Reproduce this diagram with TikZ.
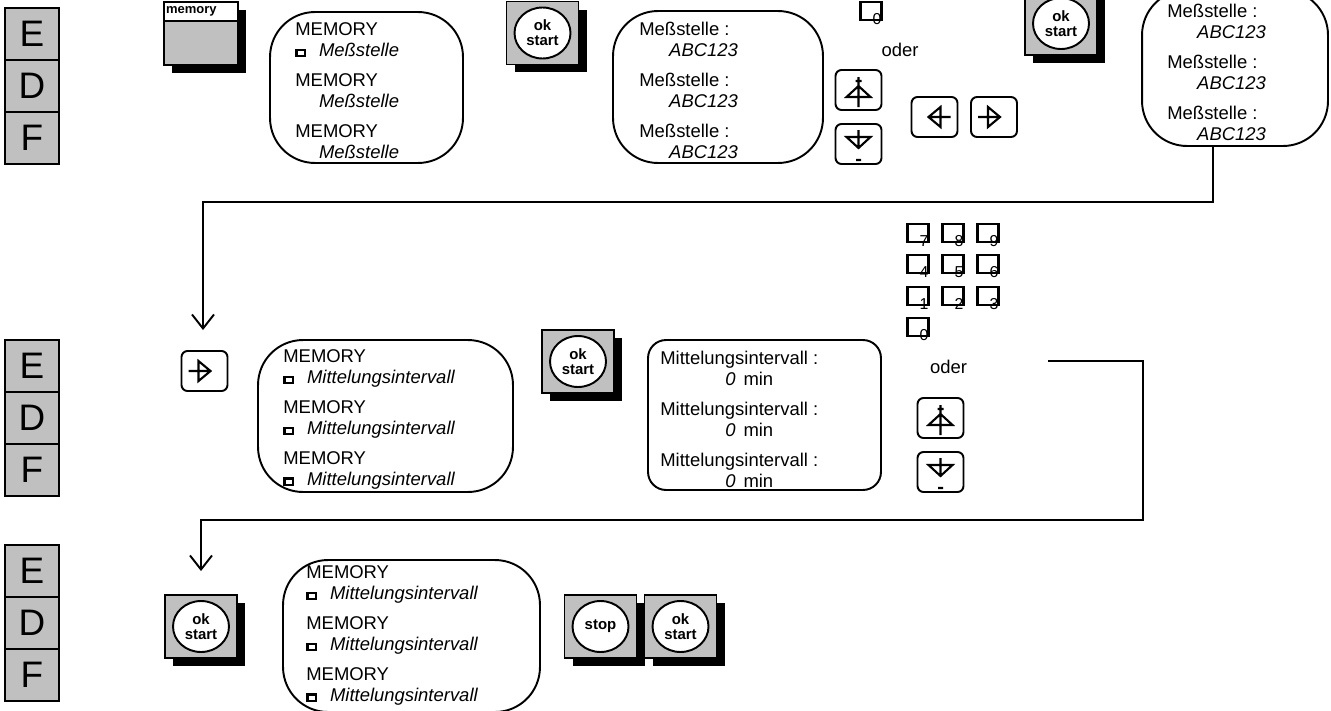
\documentclass[tikz,border=0pt]{standalone}
\usepackage{fontspec}
\setmainfont{Liberation Sans}
\usetikzlibrary{shapes.geometric, arrows.meta, positioning, shadows}
\definecolor{keygray}{RGB}{192,192,192}
\newcommand{\memsq}{\makebox[13.5pt][l]{\raisebox{1.2pt}{{\fboxsep=0pt\fboxrule=1.3pt\fbox{\rule{0pt}{2.2pt}\hspace{3.4pt}}}}}}
\newcommand{\nosq}{\makebox[13.5pt]{}}

\begin{document}
\begin{tikzpicture}[x=0.02cm, y=-0.02cm]
    % --- STYLES ---
    \tikzstyle{langbox} = [rectangle, draw=black, line width=1.1pt, fill=keygray, minimum width=1.08cm, minimum height=1.04cm, inner sep=0pt, font=\fontsize{21}{21}\selectfont]
    \tikzstyle{keycap} = [rectangle, draw=black, line width=1.1pt, fill=keygray, minimum width=1.44cm, minimum height=1.26cm, general shadow={fill=black, shadow xshift=0.16cm, shadow yshift=-0.16cm}]
    \tikzstyle{keyface} = [ellipse, draw=black, line width=1.1pt, fill=white, minimum width=1.12cm, minimum height=1.02cm, inner sep=0pt, align=center, font=\bfseries\fontsize{8.5}{8.5}\selectfont]
    \tikzstyle{lcd} = [rectangle, rounded corners=0.9cm, draw=black, line width=1.1pt]
    \tikzstyle{lcdtext} = [anchor=north west, inner sep=0pt, align=left, font=\fontsize{10.5}{12}\selectfont]
    \tikzstyle{arrowkey} = [rectangle, rounded corners=0.12cm, draw=black, line width=1.1pt, minimum width=0.92cm, minimum height=0.8cm]
    \tikzstyle{numkey} = [rectangle, draw=black, line width=1.3pt, minimum width=0.42cm, minimum height=0.36cm]
    \tikzstyle{digitlabel} = [anchor=south east, inner sep=0pt, xshift=-0.02cm, yshift=-0.07cm, font=\fontsize{9}{9}\selectfont]
    \tikzstyle{keyglyph} = [line width=1.2pt]
    \tikzstyle{flow} = [-{Straight Barb[length=0.28cm, width=0.44cm]}, line width=1.1pt]

    \useasboundingbox (0,0) rectangle (1331,710);
    \clip (0,0) rectangle (1331,710);

    % --- LANGUAGE COLUMNS ---
    \node (langE1) [langbox] at (32,34) {E};
    \node (langD1) [langbox, below=-1.1pt of langE1] {D};
    \node (langF1) [langbox, below=-1.1pt of langD1] {F};
    \node (langE2) [langbox] at (32,366) {E};
    \node (langD2) [langbox, below=-1.1pt of langE2] {D};
    \node (langF2) [langbox, below=-1.1pt of langD2] {F};
    \node (langE3) [langbox] at (32,571) {E};
    \node (langD3) [langbox, below=-1.1pt of langE3] {D};
    \node (langF3) [langbox, below=-1.1pt of langD3] {F};

    % --- ROW 1: choose the measuring point ---
    \node (memKey) [keycap, minimum width=1.48cm] at (201,33.5) {};
    \node (memLabel) [anchor=north, draw=black, line width=1.1pt, fill=white, text width=1.4cm, inner sep=0.04cm, minimum height=0.38cm, font=\bfseries\fontsize{7.4}{7.4}\selectfont] at (memKey.north) {memory};

    \node (dispA) [lcd, minimum width=3.86cm, minimum height=3.02cm] at (366.5,87.5) {};
    \node (textA) [lcdtext] at (295,22.5) {MEMORY\\\memsq\textit{Meßstelle}\\[5pt]MEMORY\\\nosq\textit{Meßstelle}\\[5pt]MEMORY\\\nosq\textit{Meßstelle}};

    \node (okA) [keycap] at (542.5,33) {};
    \node (okAface) [keyface] at (okA) {ok\\start};

    \node (dispB) [lcd, minimum width=4.2cm, minimum height=3.04cm] at (718,87) {};
    \node (textB) [lcdtext] at (639,21.5) {Meßstelle :\\\hspace*{17pt}\textit{ABC123}\\[5pt]Meßstelle :\\\hspace*{17pt}\textit{ABC123}\\[5pt]Meßstelle :\\\hspace*{17pt}\textit{ABC123}};

    \node (numTop) [numkey] at (871,11) {};
    \node (digitTop) [digitlabel] at (numTop.south east) {0};
    \node (oderA) [font=\fontsize{10.5}{12}\selectfont] at (900,50) {oder};

    \node (upA) [arrowkey] at (858.5,90) {};
    \draw[keyglyph, shift={(upA.center)}] (0,-13) -- (0,17) (-3,-9) -- (3,-9) (-12,7) -- (12,7) -- (0,-4) -- cycle;
    \node (downA) [arrowkey] at (858.5,144) {};
    \draw[keyglyph, shift={(downA.center)}] (0,-14) -- (0,4) (-12,-7) -- (12,-7) -- (0,4) -- cycle (-2.5,16) -- (2.5,16);
    \node (leftA) [arrowkey] at (934.5,117) {};
    \draw[keyglyph, shift={(leftA.center)}] (16,0) -- (-6,0) (6,-10) -- (6,10) -- (-6,0) -- cycle;
    \node (rightA) [arrowkey] at (994,117) {};
    \draw[keyglyph, shift={(rightA.center)}] (-16,0) -- (6,0) (-6,-10) -- (-6,10) -- (6,0) -- cycle;

    \node (okB) [keycap] at (1061,23.5) {};
    \node (okBface) [keyface] at (okB) {ok\\start};

    \node (dispC) [lcd, minimum width=3.72cm, minimum height=3.12cm] at (1235,68) {};
    \node (textC) [lcdtext] at (1167,3.5) {Meßstelle :\\\hspace*{17pt}\textit{ABC123}\\[5pt]Meßstelle :\\\hspace*{17pt}\textit{ABC123}\\[5pt]Meßstelle :\\\hspace*{17pt}\textit{ABC123}};

    % --- ROW 2: averaging interval ---
    \node (rightB) [arrowkey] at (204.5,371) {};
    \draw[keyglyph, shift={(rightB.center)}] (-16,0) -- (6,0) (-6,-10) -- (-6,10) -- (6,0) -- cycle;

    \node (dispD) [lcd, minimum width=5.1cm, minimum height=3.04cm] at (385.5,416) {};
    \node (textD) [lcdtext] at (283,349.5) {MEMORY\\\memsq\textit{Mittelungsintervall}\\[5pt]MEMORY\\\memsq\textit{Mittelungsintervall}\\[5pt]MEMORY\\\memsq\textit{Mittelungsintervall}};

    \node (okC) [keycap] at (578,361.5) {};
    \node (okCface) [keyface] at (okC) {ok\\start};

    \node (dispE) [lcd, rounded corners=0.36cm, minimum width=4.66cm, minimum height=3.0cm] at (764.5,415) {};
    \node (textE) [lcdtext] at (660,350.5) {Mittelungsintervall :\\\hspace*{37pt}\textit{0}\hspace{4.5pt}min\\[5pt]Mittelungsintervall :\\\hspace*{37pt}\textit{0}\hspace{4.5pt}min\\[5pt]Mittelungsintervall :\\\hspace*{37pt}\textit{0}\hspace{4.5pt}min};

    \foreach \d/\x/\y in {7/918/233, 8/953/233, 9/988/233, 4/918/264, 5/953/264, 6/988/264, 1/918/296, 2/953/296, 3/988/296, 0/918/327} {
        \node (num\d) [numkey] at (\x,\y) {};
        \node (digit\d) [digitlabel] at (num\d.south east) {\d};
    }
    \node (oderB) [font=\fontsize{10.5}{12}\selectfont] at (948.5,367) {oder};

    \node (upB) [arrowkey] at (940.5,418) {};
    \draw[keyglyph, shift={(upB.center)}] (0,-13) -- (0,17) (-3,-9) -- (3,-9) (-12,7) -- (12,7) -- (0,-4) -- cycle;
    \node (downB) [arrowkey] at (940.5,472) {};
    \draw[keyglyph, shift={(downB.center)}] (0,-14) -- (0,4) (-12,-7) -- (12,-7) -- (0,4) -- cycle (-2.5,16) -- (2.5,16);

    % --- ROW 3: start ---
    \node (okD) [keycap] at (201,626.5) {};
    \node (okDface) [keyface] at (okD) {ok\\start};

    \node (dispF) [lcd, minimum width=5.14cm, minimum height=3.04cm] at (411.5,636) {};
    \node (textF) [lcdtext] at (306,565.5) {MEMORY\\\memsq\textit{Mittelungsintervall}\\[5pt]MEMORY\\\memsq\textit{Mittelungsintervall}\\[5pt]MEMORY\\\memsq\textit{Mittelungsintervall}};

    \node (stopKey) [keycap] at (600.5,626.5) {};
    \node (stopFace) [keyface] at (stopKey) {stop};
    \node (okE) [keycap] at (680.5,626.5) {};
    \node (okEface) [keyface] at (okE) {ok\\start};

    % --- CONNECTORS ---
    \coordinate (bendA) at (1213,202);
    \coordinate (bendB) at (203,202);
    \draw[flow, shorten >=0.4cm] (dispC.south -| bendA) -- (bendA) -- (bendB) -- (bendB |- rightB.north);

    \coordinate (outE) at (1048,361);
    \coordinate (bendC) at (1143,520);
    \coordinate (bendD) at (201,520);
    \draw[flow, shorten >=0.46cm] (outE) -| (bendC) -- (bendD) -- (bendD |- okD.north);
\end{tikzpicture}
\end{document}
